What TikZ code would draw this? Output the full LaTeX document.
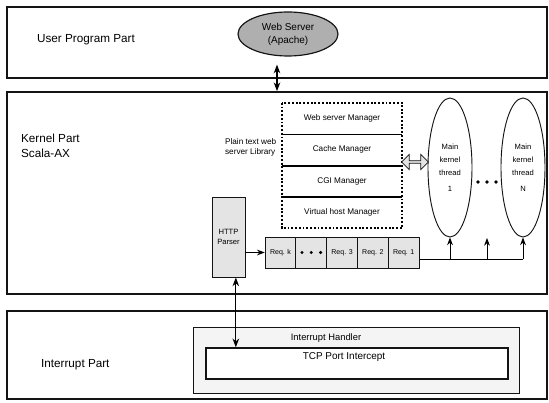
\documentclass[tikz,border=0pt]{standalone}
\usepackage{fontspec}
\setmainfont{Liberation Sans}
\usepackage{xcolor}
\usepackage{tikz}
\usetikzlibrary{arrows.meta, shapes.geometric, shapes.arrows}
\definecolor{darkline}{RGB}{20,20,20}
\definecolor{speckle}{RGB}{228,228,228}
\definecolor{serverfill}{RGB}{175,175,175}
\definecolor{handlerfill}{RGB}{244,244,244}

\begin{document}
\begin{tikzpicture}[>=Stealth, x=0.03cm, y=-0.03cm,
  partbox/.style={draw=darkline, line width=1.4pt, inner sep=0, minimum width=16.2cm},
  partlabel/.style={font=\fontsize{10}{12.5}\selectfont},
  mgrrow/.style={inner sep=0, minimum width=3.6cm, minimum height=0.9375cm, font=\fontsize{7}{8}\selectfont},
  reqbox/.style={draw=darkline, fill=speckle, line width=0.7pt, inner sep=0, minimum width=0.924cm, minimum height=0.93cm, font=\fontsize{6}{7}\selectfont},
  thread/.style={draw=darkline, ellipse, line width=0.8pt, inner sep=0, minimum width=1.32cm, minimum height=4.17cm, align=center, font=\fontsize{6.5}{11}\selectfont}]
  \useasboundingbox (0,0) rectangle (549,403);
  % User program part
  \node[partbox, minimum height=2.13cm] (user) at (277,42.5) {};
  \node[partlabel, anchor=west] (userlbl) at (33,40) {User Program Part};
  \node[draw=darkline, ellipse, line width=1pt, fill=serverfill, inner sep=0, minimum width=3cm, minimum height=1.32cm, align=center, font=\fontsize{8.5}{11}\selectfont] (websrv) at (288,34) {Web Server\\(Apache)};
  % Kernel part
  \node[partbox, minimum height=6.06cm] (kernel) at (277,193) {};
  \node[partlabel, anchor=north west, align=left] (kernlbl) at (17,130) {Kernel Part\\Scala-AX};
  \draw[<->, line width=1pt] ([xshift=-0.33cm, yshift=-0.24cm]websrv.south) -- ([xshift=-0.33cm]websrv.south |- kernel.north);
  % web server library
  \foreach \i/\t in {1/{Web server Manager}, 2/{Cache Manager}, 3/{CGI Manager}, 4/{Virtual host Manager}}
    \node[mgrrow] (mgr\i) at (342,{103+31.25*(\i-0.5)}) {\t};
  \draw[line width=1.8pt, dash pattern=on 1.6pt off 1.6pt] (mgr1.north west) rectangle (mgr4.south east);
  \foreach \i in {1,2,3}
    \draw[line width=1.4pt] (mgr\i.south west) -- (mgr\i.south east);
  \node[font=\fontsize{7}{8.5}\selectfont, align=left, anchor=west] (liblbl) at (221,147) {Plain text web\\server Library};
  % parser and requests
  \node[draw=darkline, fill=speckle, line width=0.8pt, minimum width=0.99cm, minimum height=2.4cm, inner sep=0, align=center, font=\fontsize{6.5}{8}\selectfont] (parser) at (228.5,237) {HTTP\\Parser};
  \foreach \i/\t in {0/{Req. k}, 1/{}, 2/{Req. 3}, 3/{Req. 2}, 4/{Req. 1}}
    \node[reqbox] (req\i) at ({280.5+30.8*\i},252.5) {\t};
  \foreach \d in {-1,0,1}
    \fill ([xshift=\d*0.28cm]req1.center) circle (1.4pt);
  \draw[->, line width=0.8pt] (parser.east |- req0.west) -- (req0.west);
  % kernel threads
  \node[thread] (th1) at (450,167.5) {Main\\kernel\\thread\\[0.8ex]1};
  \node[thread] (thN) at (523,167.5) {Main\\kernel\\thread\\[0.8ex]N};
  \foreach \x in {478,487,496}
    \fill (\x,182) circle (1.5pt);
  \node[double arrow, draw=darkline, fill=speckle, line width=0.6pt, minimum height=0.8cm, minimum width=0.45cm, double arrow head extend=1.5pt, inner sep=0] (libarrow) at (415,162) {};
  \coordinate (bus) at ([yshift=-0.2cm]req4.east);
  \coordinate (midtip) at (487,238);
  \draw[line width=0.8pt] (bus) -- (bus -| thN.south);
  \foreach \n in {th1.south, thN.south, midtip}
    \draw[->, line width=0.8pt] (bus -| \n) -- (\n);
  % Interrupt part
  \node[partbox, minimum height=2.64cm] (intr) at (277,355) {};
  \node[partlabel, anchor=west] (intrlbl) at (37,365) {Interrupt Part};
  \node[draw=darkline, fill=handlerfill, line width=0.8pt, minimum width=9.78cm, minimum height=1.98cm, inner sep=0] (handler) at (356,360) {};
  \node[font=\fontsize{8}{10}\selectfont] (handlerlbl) at (326,338) {Interrupt Handler};
  \node[draw=darkline, fill=white, line width=1.2pt, minimum width=9.06cm, minimum height=0.93cm, inner sep=0] (tcp) at (357,363.5) {};
  \node[font=\fontsize{8.5}{10}\selectfont] (tcplbl) at (344,357) {TCP Port Intercept};
  \draw[<->, line width=1pt] ([xshift=0.22cm]parser.south) -- ([xshift=0.22cm]parser.south |- tcp.north);
\end{tikzpicture}
\end{document}
